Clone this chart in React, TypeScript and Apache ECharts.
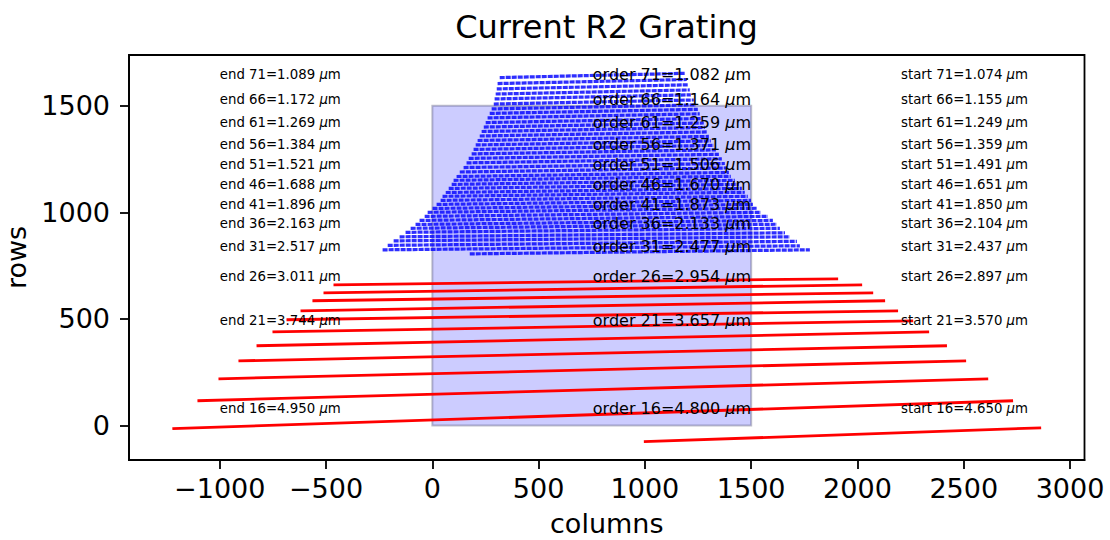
import React, { useEffect, useRef } from "react";
import * as echarts from "echarts";

const FONT = "DejaVu Sans";

// Axis ticks
const X_TICKS = [-1000, -500, 0, 500, 1000, 1500, 2000, 2500, 3000];
const Y_TICKS = [0, 500, 1000, 1500];

// Long-wavelength orders (red traces): end points in detector columns / rows
const RED_ORDERS = [15, 16, 17, 18, 19, 20, 21, 22, 23, 24, 25, 26];
const RED_X0 = [995, -1223, -1105, -1006, -912, -827, -752, -686, -620, -564, -512, -465];
const RED_Y0 = [-76, -15, 116, 219, 303, 374, 439, 496, 538, 585, 622, 660];
const RED_X1 = [2864, 2732, 2615, 2511, 2421, 2337, 2262, 2191, 2130, 2074, 2022, 1909];
const RED_Y1 = [-11, 116, 219, 303, 374, 439, 491, 538, 585, 622, 660, 688];

// Short-wavelength orders (blue traces), orders 31..71
const BLUE_ORDERS = [
  31, 32, 33, 34, 35, 36, 37, 38, 39, 40, 41, 42, 43, 44, 45, 46, 47, 48, 49, 50, 51,
  52, 53, 54, 55, 56, 57, 58, 59, 60, 61, 62, 63, 64, 65, 66, 67, 68, 69, 70, 71,
];
const BLUE_X0 = [
  176, -234, -210, -182, -154, -126, -102, -79, -60, -36, -22, 1, 20, 39, 48, 63, 77, 91, 100,
  114, 129, 147, 161, 171, 185, 194, 204, 213, 223, 232, 242, 251, 260, 270, 279, 289, 293,
  298, 303, 307, 317,
];
const BLUE_X1 = [
  1776, 1729, 1715, 1682, 1659, 1635, 1621, 1602, 1579, 1546, 1527, 1508, 1499, 1484, 1470,
  1456, 1442, 1423, 1404, 1395, 1386, 1376, 1362, 1348, 1334, 1324, 1310, 1301, 1291, 1282,
  1277, 1268, 1258, 1249, 1240, 1230, 1216, 1211, 1202, 1197, 1188,
];
const BLUE_Y0 = [
  805, 824, 845, 866, 885, 906, 925, 943, 962, 981, 1000, 1018, 1037, 1056, 1075, 1093, 1112,
  1131, 1150, 1168, 1189, 1210, 1232, 1253, 1274, 1295, 1316, 1337, 1358, 1379, 1400, 1421,
  1443, 1464, 1485, 1508, 1532, 1555, 1579, 1604, 1632,
];
const BLUE_Y1 = [
  824, 843, 864, 885, 904, 925, 944, 962, 981, 1000, 1019, 1037, 1056, 1075, 1094, 1112, 1131,
  1150, 1169, 1187, 1208, 1229, 1251, 1272, 1293, 1314, 1335, 1356, 1377, 1398, 1419, 1440,
  1462, 1483, 1504, 1527, 1551, 1574, 1598, 1623, 1652,
];

// Wavelength annotations (every fifth order)
const LABEL_ORDERS = [71, 66, 61, 56, 51, 46, 41, 36, 31, 26, 21, 16];
const LABEL_Y = [1645, 1527, 1419, 1316, 1222, 1131, 1035, 946, 838, 697, 491, 78];
const END_WL = [1.089, 1.172, 1.269, 1.384, 1.521, 1.688, 1.896, 2.163, 2.517, 3.011, 3.744, 4.95];
const CENTER_WL = [1.082, 1.164, 1.259, 1.371, 1.506, 1.67, 1.873, 2.133, 2.477, 2.954, 3.657, 4.8];
const START_WL = [1.074, 1.155, 1.249, 1.359, 1.491, 1.651, 1.85, 2.104, 2.437, 2.897, 3.57, 4.65];
const END_X = -1000;
const ORDER_X = 755;
const START_X = 2205;

// Detector footprint [x0, y0, x1, y1]
const DETECTOR = [0, 0, 1500, 1500];

const minus = (v: number) => (v < 0 ? "\u2212" + Math.abs(v) : String(v));

function traceSeries(
  orders: number[],
  x0: number[],
  y0: number[],
  x1: number[],
  y1: number[],
  style: any,
  z: number
) {
  return {
    type: "custom",
    silent: true,
    z,
    encode: { x: [0, 2], y: [1, 3] },
    data: orders.map((o, i) => [x0[i], y0[i], x1[i], y1[i], o]),
    renderItem: (params: any, api: any) => {
      const a = api.coord([api.value(0), api.value(1)]);
      const b = api.coord([api.value(2), api.value(3)]);
      return {
        type: "line",
        shape: { x1: a[0], y1: a[1], x2: b[0], y2: b[1] },
        style,
      };
    },
  };
}

function labelSeries(x: number, prefix: string, wls: number[], size: number) {
  return {
    type: "custom",
    silent: true,
    z: 20,
    clip: false,
    encode: { x: 0, y: 1 },
    data: LABEL_ORDERS.map((o, i) => [x, LABEL_Y[i], i]),
    renderItem: (params: any, api: any) => {
      const i = api.value(2);
      const p = api.coord([api.value(0), api.value(1)]);
      const txt = `{t|${prefix} ${LABEL_ORDERS[i]}=${wls[i].toFixed(3)} }{mu|\u03bc}{t|m}`;
      return {
        type: "text",
        x: p[0],
        y: p[1],
        style: {
          text: txt,
          align: "left",
          verticalAlign: "middle",
          textAlign: "left",
          textVerticalAlign: "middle",
          fill: "#000",
          fontFamily: FONT,
          fontSize: size,
          rich: {
            t: { fontFamily: FONT, fontSize: size, fill: "#000", color: "#000" },
            mu: { fontFamily: FONT, fontSize: size, fontStyle: "italic", fill: "#000", color: "#000" },
          },
        },
      };
    },
  };
}

export default function App() {
  const ref = useRef<HTMLDivElement>(null);

  useEffect(() => {
    if (!ref.current) return;
    const chart = echarts.init(ref.current, null, { renderer: "svg" });

    const axisCommon = {
      type: "value",
      nameLocation: "middle",
      nameTextStyle: { fontSize: 27, color: "#000", fontFamily: FONT },
      axisLine: { show: true, onZero: false, lineStyle: { color: "#000", width: 1.8 } },
      splitLine: { show: false },
    };

    chart.setOption({
      animation: false,
      backgroundColor: "#fff",
      textStyle: { fontFamily: FONT },
      graphic: [
        {
          type: "text",
          x: 606.5,
          y: 27,
          style: {
            text: "Current R2 Grating",
            fontSize: 32,
            fontFamily: FONT,
            fill: "#000",
            align: "center",
            verticalAlign: "middle",
            textAlign: "center",
            textVerticalAlign: "middle",
          },
        },
      ],
      grid: {
        left: 129,
        right: 25.5,
        top: 55,
        bottom: 80,
        show: true,
        containLabel: false,
        outerBoundsMode: "none",
        borderColor: "#000",
        borderWidth: 1.8,
        backgroundColor: "transparent",
      },
      xAxis: {
        ...axisCommon,
        min: -1427,
        max: 3068,
        name: "columns",
        nameGap: 50,
        axisTick: {
          show: true,
          inside: false,
          length: 9,
          lineStyle: { color: "#000", width: 1.8 },
          customValues: X_TICKS,
        },
        axisLabel: {
          customValues: X_TICKS,
          formatter: (v: number) => minus(v),
          fontSize: 27,
          color: "#000",
          fontFamily: FONT,
          margin: 15,
        },
      },
      yAxis: {
        ...axisCommon,
        min: -162,
        max: 1738,
        name: "rows",
        nameGap: 96,
        axisTick: {
          show: true,
          inside: false,
          length: 9,
          lineStyle: { color: "#000", width: 1.8 },
          customValues: Y_TICKS,
        },
        axisLabel: {
          customValues: Y_TICKS,
          formatter: (v: number) => minus(v),
          fontSize: 27,
          color: "#000",
          fontFamily: FONT,
          margin: 19,
        },
      },
      series: [
        {
          type: "custom",
          silent: true,
          z: 1,
          encode: { x: [0, 2], y: [1, 3] },
          data: [DETECTOR],
          renderItem: (params: any, api: any) => {
            const a = api.coord([api.value(0), api.value(1)]);
            const b = api.coord([api.value(2), api.value(3)]);
            return {
              type: "rect",
              shape: { x: a[0], y: b[1], width: b[0] - a[0], height: a[1] - b[1] },
              style: { fill: "rgba(0,0,255,0.2)", stroke: "rgba(40,40,80,0.3)", lineWidth: 2 },
            };
          },
        },
        traceSeries(
          RED_ORDERS,
          RED_X0,
          RED_Y0,
          RED_X1,
          RED_Y1,
          { stroke: "#ff0000", lineWidth: 2.8, lineCap: "butt" },
          3
        ),
        traceSeries(
          BLUE_ORDERS,
          BLUE_X0,
          BLUE_Y0,
          BLUE_X1,
          BLUE_Y1,
          { stroke: "#0000ff", lineWidth: 3.2, opacity: 0.82, lineDash: [5, 1], lineCap: "butt" },
          4
        ),
        labelSeries(END_X, "end", END_WL, 13.3),
        labelSeries(ORDER_X, "order", CENTER_WL, 16),
        labelSeries(START_X, "start", START_WL, 13.3),
      ],
    });

    return () => chart.dispose();
  }, []);

  return (
    <div
      ref={ref}
      style={{ position: "absolute", left: 0, top: 0, width: 1110, height: 540, background: "#fff" }}
    />
  );
}
